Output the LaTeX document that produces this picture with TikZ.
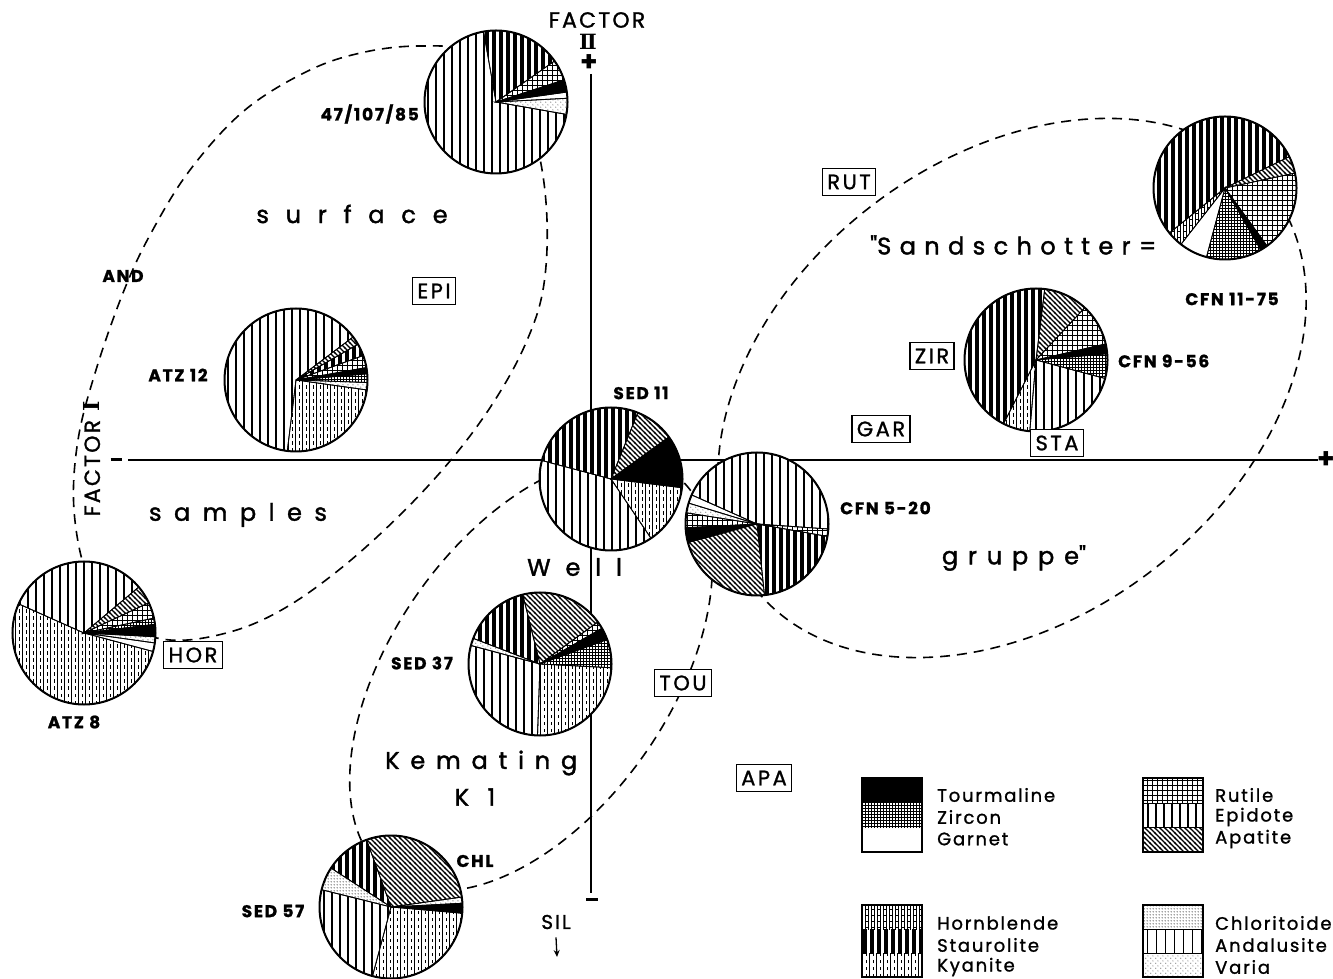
\documentclass[tikz,border=0pt]{standalone}
\usepackage{fontspec}
\setmainfont{Poppins}
\newfontfamily\lsfont[LetterSpace=10,FakeBold=1.2]{Poppins}
\newfontfamily\bxfont[LetterSpace=12,FakeBold=1.2]{Poppins}
\newfontfamily\wdfont[FakeBold=1.6]{Poppins}
\newfontfamily\dvserif{DejaVu Serif}
\usetikzlibrary{patterns,arrows.meta}

% ---------- patterns (1pt = 1px) ----------
\pgfdeclarepatternformonly{pEPI}{\pgfpoint{-1pt}{-1pt}}{\pgfpoint{9pt}{9pt}}{\pgfpoint{8pt}{8pt}}{%
  \pgfsetlinewidth{1.2pt}\pgfpathmoveto{\pgfpoint{4pt}{-1pt}}\pgfpathlineto{\pgfpoint{4pt}{9pt}}\pgfusepath{stroke}}
\pgfdeclarepatternformonly{pAND}{\pgfpoint{-1pt}{-1pt}}{\pgfpoint{10pt}{10pt}}{\pgfpoint{9pt}{9pt}}{%
  \pgfsetlinewidth{1.2pt}\pgfpathmoveto{\pgfpoint{4.5pt}{-1pt}}\pgfpathlineto{\pgfpoint{4.5pt}{10pt}}\pgfusepath{stroke}}
\pgfdeclarepatternformonly{pSTA}{\pgfpoint{-1pt}{-1pt}}{\pgfpoint{8pt}{8pt}}{\pgfpoint{7pt}{7pt}}{%
  \pgfsetlinewidth{4pt}\pgfpathmoveto{\pgfpoint{3.5pt}{-1pt}}\pgfpathlineto{\pgfpoint{3.5pt}{8pt}}\pgfusepath{stroke}}
\pgfdeclarepatternformonly{pKYA}{\pgfpoint{-1pt}{-1pt}}{\pgfpoint{8pt}{8pt}}{\pgfpoint{7pt}{7pt}}{%
  \pgfsetlinewidth{1pt}\pgfpathmoveto{\pgfpoint{1.75pt}{-1pt}}\pgfpathlineto{\pgfpoint{1.75pt}{8pt}}\pgfusepath{stroke}%
  \pgfsetlinewidth{1.3pt}\pgfpathmoveto{\pgfpoint{5.25pt}{1pt}}\pgfpathlineto{\pgfpoint{5.25pt}{4.5pt}}\pgfusepath{stroke}}
\pgfdeclarepatternformonly{pHOR}{\pgfpoint{-1pt}{-1pt}}{\pgfpoint{7pt}{7pt}}{\pgfpoint{6pt}{6pt}}{%
  \pgfsetlinewidth{1.1pt}\pgfpathmoveto{\pgfpoint{1.5pt}{-1pt}}\pgfpathlineto{\pgfpoint{1.5pt}{7pt}}%
  \pgfpathmoveto{\pgfpoint{4.5pt}{-1pt}}\pgfpathlineto{\pgfpoint{4.5pt}{7pt}}\pgfusepath{stroke}%
  \pgfsetlinewidth{0.9pt}\pgfpathmoveto{\pgfpoint{1.5pt}{3pt}}\pgfpathlineto{\pgfpoint{4.5pt}{3pt}}\pgfusepath{stroke}}
\pgfdeclarepatternformonly{pAPA}{\pgfpoint{-1pt}{-1pt}}{\pgfpoint{6pt}{6pt}}{\pgfpoint{5pt}{5pt}}{%
  \pgfsetlinewidth{1.1pt}\pgfpathmoveto{\pgfpoint{-1pt}{6pt}}\pgfpathlineto{\pgfpoint{6pt}{-1pt}}\pgfusepath{stroke}}
\pgfdeclarepatternformonly{pRUT}{\pgfpoint{-1pt}{-1pt}}{\pgfpoint{6pt}{6pt}}{\pgfpoint{5pt}{5pt}}{%
  \pgfsetlinewidth{1.5pt}\pgfpathmoveto{\pgfpoint{-1pt}{2.5pt}}\pgfpathlineto{\pgfpoint{6pt}{2.5pt}}\pgfusepath{stroke}%
  \pgfsetlinewidth{1pt}\pgfpathmoveto{\pgfpoint{2.5pt}{-1pt}}\pgfpathlineto{\pgfpoint{2.5pt}{6pt}}\pgfusepath{stroke}}
\pgfdeclarepatternformonly{pZIR}{\pgfpoint{-1pt}{-1pt}}{\pgfpoint{4pt}{4pt}}{\pgfpoint{3pt}{3pt}}{%
  \pgfsetlinewidth{0.8pt}\pgfpathmoveto{\pgfpoint{-1pt}{1.5pt}}\pgfpathlineto{\pgfpoint{4pt}{1.5pt}}%
  \pgfpathmoveto{\pgfpoint{1.5pt}{-1pt}}\pgfpathlineto{\pgfpoint{1.5pt}{4pt}}\pgfusepath{stroke}}
\pgfdeclarepatternformonly{pCHL}{\pgfpoint{0pt}{0pt}}{\pgfpoint{3pt}{3pt}}{\pgfpoint{3pt}{3pt}}{%
  \pgfpathcircle{\pgfpoint{1.5pt}{1.5pt}}{0.7pt}\pgfusepath{fill}}
\pgfdeclarepatternformonly{pVAR}{\pgfpoint{0pt}{0pt}}{\pgfpoint{5pt}{5pt}}{\pgfpoint{5pt}{5pt}}{%
  \pgfpathcircle{\pgfpoint{1pt}{1pt}}{0.55pt}\pgfpathcircle{\pgfpoint{3.5pt}{3.5pt}}{0.55pt}\pgfusepath{fill}}

\newcommand\pieS[4]{\draw[line width=0.8pt,#4] (#1) -- ++(#2:71.5) arc[start angle=#2,end angle=#3,radius=71.5] -- cycle;}
\newcommand\pieW[1]{\fill[white] (#1) circle[radius=71.5];}
\newcommand\pieO[1]{\draw[line width=2pt] (#1) circle[radius=71.5];}

\tikzset{
  axisline/.style={line width=1.8pt},
  dsh/.style={line width=1.6pt, dash pattern=on 10pt off 7pt},
  lbl/.style={font=\lsfont\bfseries\fontsize{17}{19}\selectfont, inner sep=0pt},
  tbox/.style={draw, line width=1.4pt, fill=white, font=\bxfont\fontsize{21}{23}\selectfont, inner xsep=5pt, inner ysep=3pt, minimum height=27pt},
  legt/.style={font=\lsfont\fontsize{18}{20}\selectfont, anchor=west, inner sep=0pt},
}
\newcommand\wordfnt[1]{\wdfont\addfontfeature{LetterSpace=#1}\fontsize{24}{28}\selectfont}

\begin{document}
\begin{tikzpicture}[x=1pt,y=1pt]
\useasboundingbox (0,0) rectangle (1333,978);
\fill[white] (0,0) rectangle (1333,978);

% ---------- axes ----------
\coordinate (vtop) at (591,904);
\coordinate (vbot) at (591,85);
\coordinate (hleft) at (128,518);
\coordinate (hright) at (1318,518);
\draw[axisline] (vtop) -- (vbot);
\draw[axisline] (hleft) -- (hright);
\node[font=\bfseries\fontsize{28}{28}\selectfont, inner sep=0pt] (plusT) at (589,915) {+};
\node[font=\bfseries\fontsize{28}{28}\selectfont, inner sep=0pt] (plusR) at (1326,518) {+};
\node[inner sep=0pt] (minusL) at (116,518) {\rule{11pt}{3pt}};
\node[inner sep=0pt] (minusB) at (592,79) {\rule{12pt}{3pt}};
\node[font=\lsfont\fontsize{22}{24}\selectfont, inner sep=0pt] (factor2) at (597,958) {FACTOR};
\node[font=\dvserif\bfseries\fontsize{21}{24}\selectfont, inner sep=0pt] (roman2) at (588,936) {Ⅱ};
\node[font=\lsfont\fontsize{22}{24}\selectfont, inner sep=0pt, rotate=90] (factor1) at (92,519) {FACTOR {\dvserif\bfseries Ⅰ}};

% ---------- dashed groups ----------
\draw[dsh] plot[smooth cycle, tension=0.6] coordinates {
  (420,932) (470,926) (515,888) (538,828) (547,758) (543,688) (525,633) (495,578)
  (455,523) (405,468) (345,413) (285,370) (230,346) (170,338) (120,356) (88,400)
  (74,468) (78,538) (96,608) (123,685) (150,743) (190,808) (245,868) (310,908) (365,926)};
\draw[dsh, rotate around={37.5:(1012,590)}] (1012,590) ellipse [x radius=326, y radius=230];
\draw[dsh, rotate around={55:(531,304)}] (531,304) ellipse [x radius=246, y radius=139];

% ---------- pies ----------
\coordinate (p47) at (496,876);
\coordinate (p1175) at (1225,790);
\coordinate (p956) at (1036,618);
\coordinate (ps11) at (611,499);
\coordinate (p520) at (757,454);
\coordinate (pa12) at (296,598);
\coordinate (pa8) at (84,345);
\coordinate (ps37) at (540,314);
\coordinate (ps57) at (391,71);

% 47/107/85
\pieW{p47}
\pieS{p47}{100}{350}{pattern=pEPI}
\pieS{p47}{35}{100}{pattern=pSTA}
\pieS{p47}{18}{35}{pattern=pRUT}
\pieS{p47}{8}{18}{fill=black}
\pieS{p47}{3}{8}{}
\pieS{p47}{-10}{3}{pattern=pVAR}
\pieO{p47}

% CFN 11-75
\pieW{p1175}
\pieS{p1175}{26}{219}{pattern=pSTA}
\pieS{p1175}{219}{232}{pattern=pHOR}
\pieS{p1175}{232}{255}{}
\pieS{p1175}{255}{300}{pattern=pZIR}
\pieS{p1175}{300}{306}{fill=black}
\pieS{p1175}{306}{372}{pattern=pRUT}
\pieS{p1175}{12}{26}{pattern=pAPA}
\pieO{p1175}

% CFN 9-56
\pieW{p956}
\pieS{p956}{47}{83}{pattern=pAPA}
\pieS{p956}{83}{243}{pattern=pSTA}
\pieS{p956}{243}{265}{pattern=pKYA}
\pieS{p956}{265}{345}{pattern=pEPI}
\pieS{p956}{345}{365}{pattern=pZIR}
\pieS{p956}{5}{13}{fill=black}
\pieS{p956}{13}{47}{pattern=pRUT}
\pieO{p956}

% SED 11
\pieW{ps11}
\pieS{ps11}{68}{165}{pattern=pSTA}
\pieS{ps11}{36}{68}{pattern=pAPA}
\pieS{ps11}{-7}{36}{fill=black}
\pieS{ps11}{-56}{-7}{pattern=pKYA}
\pieS{ps11}{165}{304}{pattern=pEPI}
\pieO{ps11}

% CFN 5-20
\pieW{p520}
\pieS{p520}{-4}{156}{pattern=pEPI}
\pieS{p520}{156}{163}{}
\pieS{p520}{163}{171}{pattern=pVAR}
\pieS{p520}{171}{183}{pattern=pRUT}
\pieS{p520}{183}{195}{fill=black}
\pieS{p520}{195}{276}{pattern=pAPA}
\pieS{p520}{276}{350}{pattern=pSTA}
\pieS{p520}{350}{356}{pattern=pRUT}
\pieO{p520}

% ATZ 12
\pieW{pa12}
\pieS{pa12}{37}{263}{pattern=pEPI}
\pieS{pa12}{263}{352}{pattern=pKYA}
\pieS{pa12}{352}{358}{pattern=pVAR}
\pieS{pa12}{358}{365}{pattern=pZIR}
\pieS{pa12}{5}{10}{fill=black}
\pieS{pa12}{10}{20}{pattern=pRUT}
\pieS{pa12}{20}{30}{pattern=pSTA}
\pieS{pa12}{30}{37}{pattern=pAPA}
\pieO{pa12}

% ATZ 8
\pieW{pa8}
\pieS{pa8}{40}{156}{pattern=pEPI}
\pieS{pa8}{156}{345}{pattern=pKYA}
\pieS{pa8}{345}{352}{}
\pieS{pa8}{352}{357}{pattern=pVAR}
\pieS{pa8}{357}{367}{fill=black}
\pieS{pa8}{7}{12}{pattern=pZIR}
\pieS{pa8}{12}{25}{pattern=pRUT}
\pieS{pa8}{25}{40}{pattern=pAPA}
\pieO{pa8}

% SED 37
\pieW{ps37}
\pieS{ps37}{36}{104}{pattern=pAPA}
\pieS{ps37}{104}{159}{pattern=pSTA}
\pieS{ps37}{159}{165}{pattern=pVAR}
\pieS{ps37}{165}{268}{pattern=pEPI}
\pieS{ps37}{268}{357}{pattern=pKYA}
\pieS{ps37}{357}{380}{pattern=pZIR}
\pieS{ps37}{20}{30}{fill=black}
\pieS{ps37}{30}{36}{pattern=pRUT}
\pieO{ps37}

% SED 57
\pieW{ps57}
\pieS{ps57}{8}{110}{pattern=pAPA}
\pieS{ps57}{110}{147}{pattern=pSTA}
\pieS{ps57}{147}{166}{pattern=pCHL}
\pieS{ps57}{166}{255}{pattern=pEPI}
\pieS{ps57}{255}{355}{pattern=pKYA}
\pieS{ps57}{355}{363}{fill=black}
\pieS{ps57}{3}{8}{pattern=pVAR}
\pieO{ps57}

% ---------- pie labels ----------
\node[lbl, anchor=east] (l47) at (419,864) {47/107/85};
\node[lbl] (l1175) at (1232,679) {CFN 11-75};
\node[lbl, anchor=west] (l956) at (1118,617) {CFN 9-56};
\node[lbl] (ls11) at (641,585) {SED 11};
\node[lbl, anchor=west] (l520) at (840,470) {CFN 5-20};
\node[lbl] (la12) at (178,603) {ATZ 12};
\node[lbl] (la8) at (74,256) {ATZ 8};
\node[lbl] (ls37) at (422,315) {SED 37};
\node[lbl] (ls57) at (273,67) {SED 57};
\node[lbl] (lchl) at (475,117) {CHL};
\node[lbl] (land) at (123,702) {AND};

% SIL
\node[font=\lsfont\fontsize{20}{22}\selectfont, inner sep=0pt] (sil) at (556,56) {SIL};
\coordinate (silend) at (557,21);
\draw[line width=1.3pt, -{Stealth[length=7pt,width=6pt]}] ([yshift=-8pt]sil.south) -- (silend);

% ---------- boxed labels ----------
\node[tbox] (bRUT) at (849,796) {RUT};
\node[tbox] (bEPI) at (434,687) {EPI};
\node[tbox] (bZIR) at (932,622) {ZIR};
\node[tbox] (bGAR) at (881,549) {GAR};
\node[tbox] (bSTA) at (1057,535) {STA};
\node[tbox] (bHOR) at (193,323) {HOR};
\node[tbox] (bTOU) at (683,295) {TOU};
\node[tbox] (bAPA) at (764,200) {APA};

% ---------- spaced words ----------
\node[inner sep=0pt, font=\wordfnt{70}] (wsurf) at (352,764) {surface};
\node[inner sep=0pt, font=\wordfnt{52}] (wsamp) at (238,463) {samples};
\node[inner sep=0pt, font=\wordfnt{62}, anchor=west] (wwell) at (527,411) {Well};
\node[inner sep=0pt, font=\wordfnt{35}, anchor=west] (wsand) at (870,733) {\textquotedbl Sandschotter=};
\node[inner sep=0pt, font=\wordfnt{41}] (wgrup) at (1014,420) {gruppe\textquotedbl};
\node[inner sep=0pt, font=\wordfnt{45}, anchor=west] (wkem) at (385,215) {Kemating};
\node[inner sep=0pt, font=\wordfnt{50}] (wk1) at (475,181) {K 1};

% ---------- legend ----------
\fill[black] (862,200) rectangle (922,175);
\fill[pattern=pZIR] (862,175) rectangle (922,151);
\draw[line width=1.4pt] (862,200) rectangle (922,126);
\node[legt] (tTou) at (937,183) {Tourmaline};
\node[legt] (tZir) at (937,161) {Zircon};
\node[legt] (tGar) at (937,139) {Garnet};
\fill[pattern=pRUT] (1143,200) rectangle (1203,175);
\fill[pattern=pEPI] (1143,175) rectangle (1203,151);
\fill[pattern=pAPA] (1143,151) rectangle (1203,126);
\draw[line width=1pt] (1143,175) -- (1203,175) (1143,151) -- (1203,151);
\draw[line width=1.4pt] (1143,200) rectangle (1203,126);
\node[legt] (tRut) at (1215,183) {Rutile};
\node[legt] (tEpi) at (1215,161) {Epidote};
\node[legt] (tApa) at (1215,139) {Apatite};
\fill[pattern=pHOR] (862,73) rectangle (922,49);
\fill[pattern=pSTA] (862,49) rectangle (922,25);
\fill[pattern=pKYA] (862,25) rectangle (922,1);
\draw[line width=1.4pt] (862,73) rectangle (922,1);
\node[legt] (tHor) at (937,55) {Hornblende};
\node[legt] (tSta) at (937,33) {Staurolite};
\node[legt] (tKya) at (937,11) {Kyanite};
\fill[pattern=pCHL] (1143,73) rectangle (1203,49);
\fill[pattern=pAND] (1143,49) rectangle (1203,25);
\fill[pattern=pVAR] (1143,25) rectangle (1203,1);
\draw[line width=1pt] (1143,49) -- (1203,49) (1143,25) -- (1203,25);
\draw[line width=1.4pt] (1143,73) rectangle (1203,1);
\node[legt] (tChl) at (1215,55) {Chloritoide};
\node[legt] (tAnd) at (1215,33) {Andalusite};
\node[legt] (tVar) at (1215,11) {Varia};
\end{tikzpicture}
\end{document}
